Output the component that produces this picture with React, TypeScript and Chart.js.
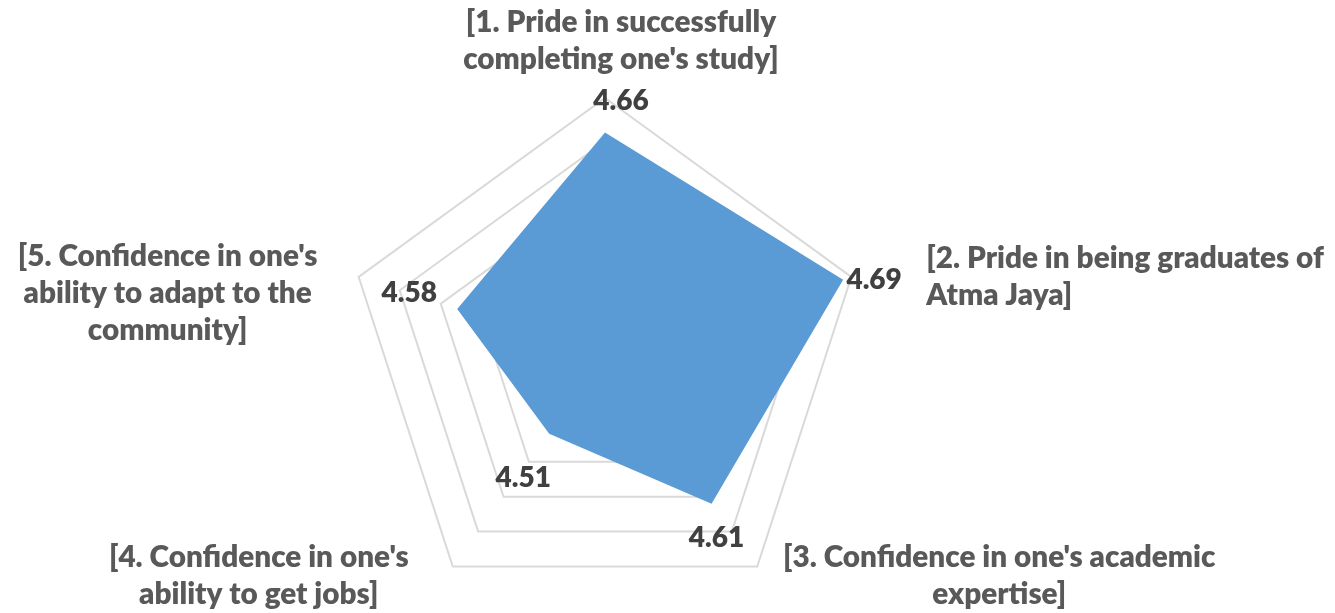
import React, { useEffect, useRef } from "react";
import { Chart, registerables } from "chart.js";

Chart.register(...registerables);

const categories: string[][] = [
  ["[1. Pride in successfully", "completing one's study]"],
  ["[2. Pride in being graduates of", "Atma Jaya]"],
  ["[3. Confidence in one's academic", "expertise]"],
  ["[4. Confidence in one's", "ability to get jobs]"],
  ["[5. Confidence in one's", "ability to adapt to the", "community]"],
];
const values: number[] = [4.66, 4.69, 4.61, 4.51, 4.58];
const scaleMin = 4.4;
const scaleMax = 4.7;
const scaleStep = 0.05;

// label layout (offsets in px from scale anchor points)
const catOffsets = [
  { dx: 16, dy: -57, align: "center" },
  { dx: 75, dy: 0, align: "left" },
  { dx: 242, dy: 9, align: "center" },
  { dx: -194, dy: 9, align: "center" },
  { dx: -191, dy: 16, align: "center" },
];
const valOffsets = [
  { dx: 16, dy: -32 },
  { dx: 31, dy: 0 },
  { dx: 5, dy: 34 },
  { dx: -26, dy: 44 },
  { dx: -48, dy: -16 },
];

const FONT = 'Lato, "Open Sans", sans-serif';

const labelPlugin = {
  id: "excelLabels",
  afterDatasetsDraw(chart: any) {
    const scale = chart.scales.r;
    const ctx = chart.ctx;
    ctx.save();
    ctx.textBaseline = "middle";
    // category labels
    ctx.font = `800 29.7px ${FONT}`;
    ctx.fillStyle = "#595959";
    const lh = 37;
    categories.forEach((lines, i) => {
      const p = scale.getPointPosition(i, scale.drawingArea);
      const o = catOffsets[i];
      ctx.textAlign = o.align;
      const cy = p.y + o.dy;
      const startY = cy - ((lines.length - 1) * lh) / 2;
      lines.forEach((ln, k) => {
        ctx.fillText(ln, p.x + o.dx, startY + k * lh);
      });
    });
    // value labels
    ctx.font = `800 28px ${FONT}`;
    ctx.fillStyle = "#404040";
    ctx.textAlign = "center";
    values.forEach((v, i) => {
      const p = scale.getPointPositionForValue(i, v);
      const o = valOffsets[i];
      ctx.fillText(v.toFixed(2), p.x + o.dx, p.y + o.dy);
    });
    ctx.restore();
  },
};

export default function App() {
  const ref = useRef<HTMLCanvasElement | null>(null);
  useEffect(() => {
    if (!ref.current) return;
    const chart = new Chart(ref.current, {
      type: "radar",
      data: {
        labels: categories.map((c) => c.join(" ")),
        datasets: [
          {
            data: values,
            backgroundColor: "#5B9BD5",
            borderWidth: 0,
            pointRadius: 0,
            fill: true,
          },
        ],
      },
      options: {
        animation: false,
        responsive: false,
        layout: { padding: { left: 338, right: 463, top: 90, bottom: 12 } },
        plugins: { legend: { display: false }, tooltip: { enabled: false } },
        scales: {
          r: {
            min: scaleMin,
            max: scaleMax,
            ticks: { display: false, stepSize: scaleStep },
            pointLabels: { display: false },
            angleLines: { display: false },
            grid: { color: "#D9D9D9", lineWidth: 2 },
          },
        },
      },
      plugins: [labelPlugin],
    });
    return () => chart.destroy();
  }, []);
  return (
    <div style={{ width: 1319, height: 597 }}>
      <div style={{ position: "fixed", left: 8, top: 8, width: 1319, height: 605, overflow: "hidden" }}>
        <canvas ref={ref} width={1319} height={620} style={{ display: "block", width: 1319, height: 620 }} />
      </div>
    </div>
  );
}
